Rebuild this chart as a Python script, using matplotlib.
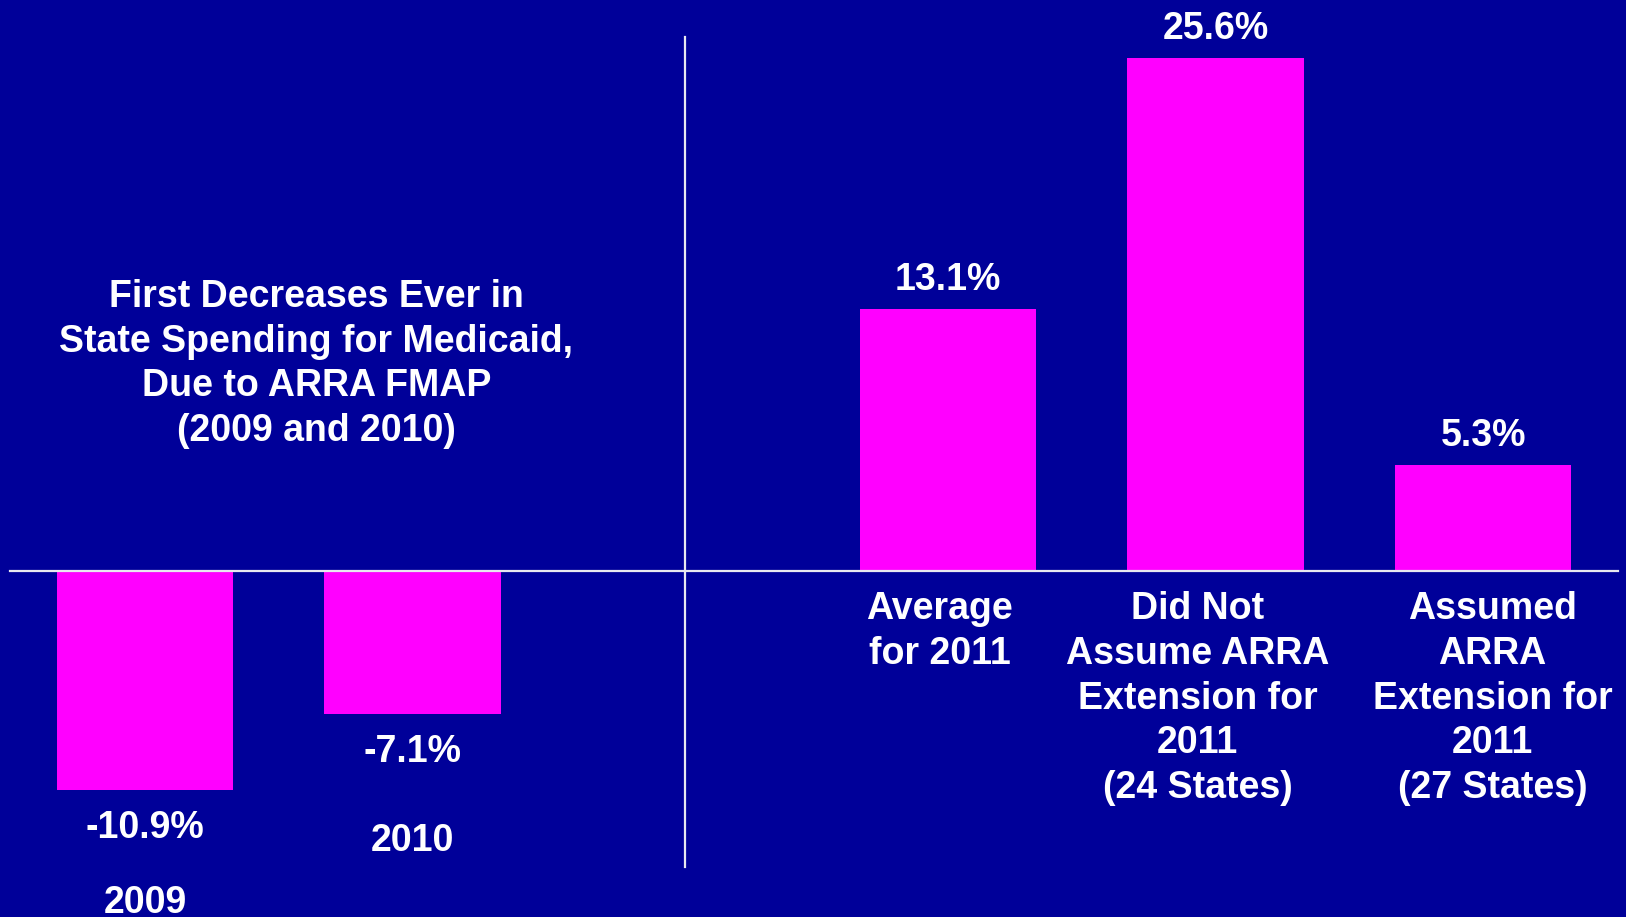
import matplotlib
matplotlib.use("Agg")
import matplotlib.pyplot as plt
from matplotlib import font_manager

# ---- data ----
categories = ["2009", "2010",
              "Average\nfor 2011",
              "Did Not\nAssume ARRA\nExtension for\n2011\n(24 States)",
              "Assumed\nARRA\nExtension for\n2011\n(27 States)"]
values = [-10.9, -7.1, 13.1, 25.6, 5.3]
value_labels = ["-10.9%", "-7.1%", "13.1%", "25.6%", "5.3%"]
positions = [0, 1, 3, 4, 5]
title_text = "First Decreases Ever in\nState Spending for Medicaid,\nDue to ARRA FMAP\n(2009 and 2010)"

BG = "#000099"
BAR = "#FF00FF"

names = {f.name for f in font_manager.fontManager.ttflist}
main_font = "Liberation Sans" if "Liberation Sans" in names else "DejaVu Sans"
narrow_font = "Liberation Sans Narrow" if "Liberation Sans Narrow" in names else main_font

fig = plt.figure(figsize=(16.26, 9.17), dpi=100, facecolor=BG)
ax = fig.add_axes([0, 0, 1, 1])
ax.set_facecolor(BG)
ax.set_xlim(-0.5426, 5.534)
ax.set_ylim(-17.24, 28.50)
ax.axis("off")

ax.bar(positions, values, width=0.66, color=BAR, zorder=2)

# axis lines
ax.plot([-0.504, 5.504], [0, 0], color="#E8E8F0", lw=1.6, zorder=3)
ax.plot([2.016, 2.016], [-14.74, 26.63], color="#E8E8F0", lw=1.6, zorder=3)

fs = 27
for p, v, lab in zip(positions, values, value_labels):
    off = 21 if v > 0 else -27.5
    ax.annotate(lab, xy=(p, v), xytext=(0, off), textcoords="offset points",
                ha="center", va="center", color="white", fontsize=fs,
                fontweight="bold", family=main_font)

# category labels (the 2009 label runs off the bottom edge, as in the original)
label_shift = {3: -0.03, 4: -0.066, 5: 0.035}
for p, v, cat in zip(positions, values, categories):
    if v < 0:
        y = -16.55 if p == 0 else -13.45
        ax.text(p, y, cat, ha="center", va="center", color="white", fontsize=fs,
                fontweight="bold", family=main_font)
    else:
        ax.text(p + label_shift.get(p, 0), -1.0, cat, ha="center", va="top",
                color="white", fontsize=fs, fontweight="bold", family=narrow_font,
                linespacing=1.31)

ax.text(0.64, 10.34, title_text, ha="center", va="center", color="white",
        fontsize=fs, fontweight="bold", family=main_font, linespacing=1.31)

fig.savefig("out.png", dpi=100, facecolor=BG)
